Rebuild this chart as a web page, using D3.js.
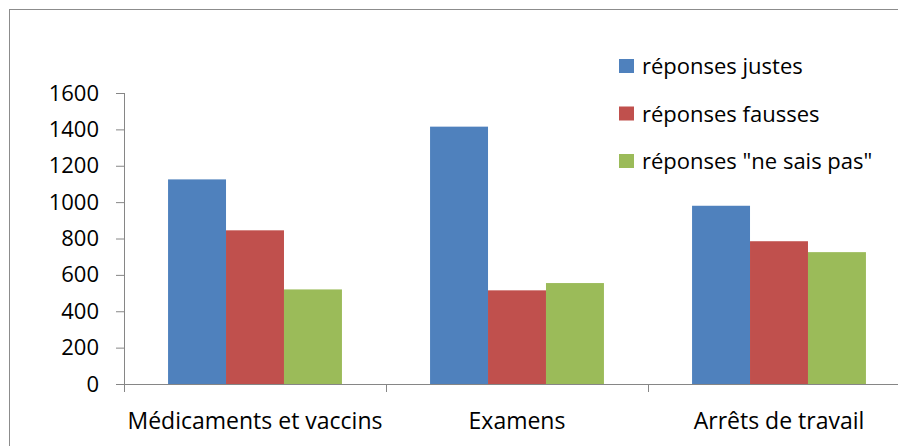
<!DOCTYPE html>
<html>
<head>
<meta charset="utf-8">
<script src="https://cdn.jsdelivr.net/npm/d3@7"></script>
<style>
  body { margin: 0; background: #fff; }
  svg { display: block; font-family: 'Open Sans', sans-serif; }
  .axis path, .axis line { stroke: #868686; }
  .axis text { fill: #000; font-size: 22px; font-family: 'Open Sans', sans-serif; }
  .axis text.cat { font-size: 23px; }
</style>
</head>
<body>
<div id="chart"></div>
<script>
var categories = ['Médicaments et vaccins', 'Examens', 'Arrêts de travail'];
var seriesNames = ['réponses justes', 'réponses fausses', 'réponses "ne sais pas"'];
var justes = [1125, 1415, 980];
var fausses = [845, 515, 785];
var nesaispas = [520, 555, 725];
var yTicks = [0, 200, 400, 600, 800, 1000, 1200, 1400, 1600];
var colors = ['#4f81bd', '#c0504d', '#9bbb59'];

var width = 898,
    height = 446;

var svg = d3.select('#chart')
            .append('svg')
            .attr('width', width)
            .attr('height', height);

// chart border (right and bottom edges fall outside the picture)
svg.append('rect')
   .attr('x', 9.5)
   .attr('y', 9.5)
   .attr('width', 1000)
   .attr('height', 1000)
   .style('fill', 'none')
   .style('stroke', '#8c8c8c');

var plotLeft = 124, plotRight = 910, plotTop = 93, plotBottom = 384;

var x0 = d3.scaleBand()
           .domain(categories)
           .range([plotLeft, plotRight])
           .padding(0);

var x1 = d3.scaleBand()
           .domain(seriesNames)
           .range([0, x0.bandwidth()])
           .paddingInner(0)
           .paddingOuter(0.76);

var y = d3.scaleLinear()
          .domain([0, 1600])
          .range([plotBottom, plotTop]);

var series = [justes, fausses, nesaispas];
var rows = [];
categories.forEach(function(c, i) {
  seriesNames.forEach(function(s, j) {
    rows.push({cat: c, name: s, value: series[j][i], color: colors[j]});
  });
});

svg.selectAll('rect.bar')
   .data(rows)
   .enter()
   .append('rect')
   .attr('class', 'bar')
   .attr('x', function(d) { return x0(d.cat) + x1(d.name); })
   .attr('y', function(d) { return y(d.value); })
   .attr('width', x1.bandwidth())
   .attr('height', function(d) { return plotBottom - y(d.value); })
   .style('fill', function(d) { return d.color; });

//Y axis
var yAxis = d3.axisLeft(y)
              .tickValues(yTicks)
              .tickSize(8)
              .tickSizeOuter(0)
              .tickPadding(17)
              .tickFormat(d3.format('d'));

svg.append('g')
   .attr('class', 'axis')
   .attr('transform', 'translate(' + plotLeft + ',0)')
   .call(yAxis)
   .select('.domain')
   .attr('d', 'M0.5,' + plotTop + 'V' + (plotBottom + 8));

//X axis: line plus ticks between categories
var xg = svg.append('g').attr('class', 'axis');
xg.append('line')
  .attr('x1', plotLeft)
  .attr('x2', plotRight)
  .attr('y1', plotBottom + 0.5)
  .attr('y2', plotBottom + 0.5);

xg.selectAll('line.tick')
  .data(categories)
  .enter()
  .append('line')
  .attr('class', 'tick')
  .attr('x1', function(d) { return x0(d) + x0.bandwidth() + 0.5; })
  .attr('x2', function(d) { return x0(d) + x0.bandwidth() + 0.5; })
  .attr('y1', plotBottom)
  .attr('y2', plotBottom + 8);

xg.selectAll('text')
  .data(categories)
  .enter()
  .append('text')
  .attr('class', 'cat')
  .attr('x', function(d) { return x0(d) + x0.bandwidth() / 2; })
  .attr('y', 429)
  .attr('text-anchor', 'middle')
  .text(function(d) { return d; });

//Legend
var legend = svg.selectAll('g.legend')
                .data(seriesNames)
                .enter()
                .append('g')
                .attr('class', 'legend')
                .attr('transform', function(d, i) { return 'translate(619,' + (59 + i * 47.5) + ')'; });

legend.append('rect')
      .attr('width', 15)
      .attr('height', 14)
      .style('fill', function(d, i) { return colors[i]; });

legend.append('text')
      .attr('x', 23)
      .attr('y', 15)
      .style('font-size', '22px')
      .text(function(d) { return d; });
</script>
</body>
</html>
